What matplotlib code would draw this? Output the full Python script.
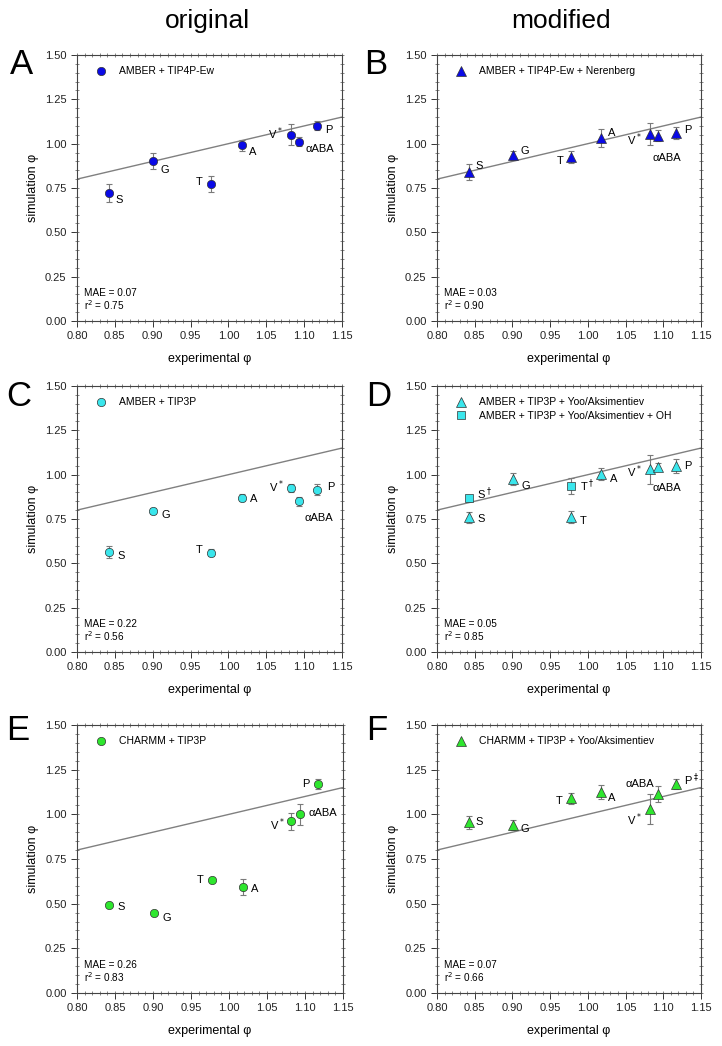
import numpy as np
import matplotlib.pyplot as plt
from matplotlib.ticker import MultipleLocator

plt.rcParams['font.family'] = ['Liberation Sans', 'DejaVu Sans']

# experimental phi values (x)
residues = ['S', 'G', 'T', 'A', 'V$^*$', 'αABA', 'P']
exp_phi = [0.842, 0.901, 0.977, 1.018, 1.082, 1.093, 1.117]

# simulation phi (y) and errors per panel
sim_A = [0.72, 0.90, 0.77, 0.99, 1.05, 1.01, 1.10]
err_A = [0.05, 0.045, 0.045, 0.03, 0.06, 0.025, 0.025]
sim_B = [0.84, 0.935, 0.925, 1.03, 1.055, 1.045, 1.06]
err_B = [0.045, 0.025, 0.035, 0.05, 0.06, 0.03, 0.035]
sim_C = [0.565, 0.795, 0.56, 0.87, 0.925, 0.85, 0.915]
err_C = [0.035, 0.015, 0.02, 0.02, 0.02, 0.025, 0.03]
sim_D = [0.76, 0.975, 0.76, 1.005, 1.03, 1.045, 1.05]
err_D = [0.03, 0.035, 0.035, 0.035, 0.08, 0.02, 0.04]
oh_labels = ['S$^\\dagger$', 'T$^\\dagger$']
oh_x = [0.842, 0.977]
oh_D = [0.87, 0.935]
oh_err = [0.01, 0.045]
sim_E = [0.49, 0.445, 0.63, 0.595, 0.96, 1.00, 1.17]
err_E = [0.01, 0.01, 0.01, 0.045, 0.05, 0.06, 0.03]
sim_F = [0.955, 0.94, 1.09, 1.125, 1.03, 1.115, 1.17]
err_F = [0.035, 0.03, 0.03, 0.04, 0.085, 0.045, 0.03]
labels_F = ['S', 'G', 'T', 'A', 'V$^*$', 'αABA', 'P$^\\ddagger$']

stats = {'A': (0.07, 0.75), 'B': (0.03, 0.90), 'C': (0.22, 0.56),
         'D': (0.05, 0.85), 'E': (0.26, 0.83), 'F': (0.07, 0.66)}

blue = '#0a0ae6'
cyan = '#3ae6ec'
green = '#2ee62e'

# label offsets (points) and alignment per panel
offs = {
    'A': [(5, -5, 'left'), (5, -6, 'left'), (-6, 2, 'right'), (5, -5, 'left'),
          (-6, 1, 'right'), (5, -5, 'left'), (6, -3, 'left')],
    'B': [(5, 4, 'left'), (5, 3, 'left'), (-5, -3, 'right'), (5, 4, 'left'),
          (-6, -4, 'right'), (-4, -16, 'left'), (6, 2, 'left')],
    'C': [(6, -3, 'left'), (6, -3, 'left'), (-6, 2, 'right'), (6, -1, 'left'),
          (-5, 1, 'right'), (4, -12, 'left'), (7, 2, 'left')],
    'D': [(6, -1, 'left'), (6, -5, 'left'), (7, -3, 'left'), (6, -4, 'left'),
          (-6, -2, 'right'), (-4, -15, 'left'), (6, 0, 'left')],
    'E': [(6, -1, 'left'), (6, -3, 'left'), (-6, 0, 'right'), (6, -2, 'left'),
          (-5, -2, 'right'), (6, 1, 'left'), (-6, 0, 'right')],
    'F': [(5, 0, 'left'), (5, -3, 'left'), (-6, -2, 'right'), (5, -4, 'left'),
          (-6, -8, 'right'), (-3, 7, 'right'), (6, 3, 'left')],
}

W, H = 722, 1046
fig = plt.figure(figsize=(W / 100, H / 100), dpi=100)

def axes_px(x0, y0, x1, y1):
    return fig.add_axes([x0 / W, 1 - y1 / H, (x1 - x0) / W, (y1 - y0) / H])

panels = {
    'A': axes_px(77, 55, 342, 321),
    'B': axes_px(437, 55, 701, 321),
    'C': axes_px(77, 386, 342, 652),
    'D': axes_px(437, 386, 701, 652),
    'E': axes_px(77, 725, 343, 993),
    'F': axes_px(437, 725, 701, 993),
}

series = {
    'A': (sim_A, err_A, blue, 'o', 'AMBER + TIP4P-Ew', residues),
    'B': (sim_B, err_B, blue, '^', 'AMBER + TIP4P-Ew + Nerenberg', residues),
    'C': (sim_C, err_C, cyan, 'o', 'AMBER + TIP3P', residues),
    'D': (sim_D, err_D, cyan, '^', 'AMBER + TIP3P + Yoo/Aksimentiev', residues),
    'E': (sim_E, err_E, green, 'o', 'CHARMM + TIP3P', residues),
    'F': (sim_F, err_F, green, '^', 'CHARMM + TIP3P + Yoo/Aksimentiev', labels_F),
}

for key, ax in panels.items():
    y, e, col, mk, name, labs = series[key]
    ax.plot([0.80, 1.15], [0.80, 1.15], color='#808080', lw=1.0, zorder=1)
    ax.errorbar(exp_phi, y, yerr=e, fmt='none', ecolor='#7a7a7a', elinewidth=0.8,
                capsize=2.5, capthick=0.8, zorder=2)
    ms = 6 if mk == 'o' else 6.5
    ax.plot(exp_phi, y, mk, color=col, ms=ms, mec='#333333', mew=0.5,
            zorder=3, label=name)
    for xi, yi, lab, (dx, dy, ha) in zip(exp_phi, y, labs, offs[key]):
        ax.annotate(lab, (xi, yi), xytext=(dx, dy), textcoords='offset points',
                    ha=ha, va='center', fontsize=8)
    if key == 'D':
        ax.errorbar(oh_x, oh_D, yerr=oh_err, fmt='none', ecolor='#7a7a7a',
                    elinewidth=0.8, capsize=2.5, capthick=0.8, zorder=2)
        ax.plot(oh_x, oh_D, 's', color=cyan, ms=5.5, mec='#333333', mew=0.5,
                zorder=3, label='AMBER + TIP3P + Yoo/Aksimentiev + OH')
        for xi, yi, lab, (dx, dy) in zip(oh_x, oh_D, oh_labels, [(6, 3), (7, 0)]):
            ax.annotate(lab, (xi, yi), xytext=(dx, dy), textcoords='offset points',
                        ha='left', va='center', fontsize=8)
    ax.legend(loc='upper left', bbox_to_anchor=(0.035, 0.985), frameon=False,
              fontsize=7.5, handletextpad=0.9, borderaxespad=0.3, labelspacing=0.35,
              handlelength=1.5)
    mae, r2 = stats[key]
    ax.text(0.028, 0.105, f'MAE = {mae:.2f}', transform=ax.transAxes,
            fontsize=7.2, va='center')
    ax.text(0.028, 0.058, f'r$^2$ = {r2:.2f}', transform=ax.transAxes,
            fontsize=7.2, va='center')

    ax.set_xlim(0.80, 1.15)
    ax.set_ylim(0.0, 1.5)
    ax.xaxis.set_major_locator(MultipleLocator(0.05))
    ax.xaxis.set_minor_locator(MultipleLocator(0.01))
    ax.yaxis.set_major_locator(MultipleLocator(0.25))
    ax.yaxis.set_minor_locator(MultipleLocator(0.05))
    ax.xaxis.remove_overlapping_locs = False
    ax.yaxis.remove_overlapping_locs = False
    ax.xaxis.set_major_formatter(plt.FormatStrFormatter('%.2f'))
    ax.yaxis.set_major_formatter(plt.FormatStrFormatter('%.2f'))
    ax.tick_params(which='major', direction='out', length=4, width=0.7,
                   labelsize=8, colors='#333333', labelcolor='#222222')
    ax.tick_params(which='minor', direction='inout', length=3, width=0.5,
                   top=True, right=True, colors='#555555')
    for s in ax.spines.values():
        s.set_color('#444444')
        s.set_linewidth(0.8)
    ax.set_xlabel('experimental φ', fontsize=9, labelpad=8)
    ax.set_ylabel('simulation φ', fontsize=9, labelpad=4)

letters = {'A': (22, 65), 'B': (376, 65), 'C': (19, 397), 'D': (379, 397),
           'E': (18, 731), 'F': (377, 731)}
for k, (px, py) in letters.items():
    fig.text(px / W, 1 - py / H, k, fontsize=25, ha='center', va='center')

fig.text(207 / W, 1 - 21 / H, 'original', fontsize=19, ha='center', va='center')
fig.text(561 / W, 1 - 21 / H, 'modified', fontsize=19, ha='center', va='center')

fig.savefig('out.png', dpi=100)
